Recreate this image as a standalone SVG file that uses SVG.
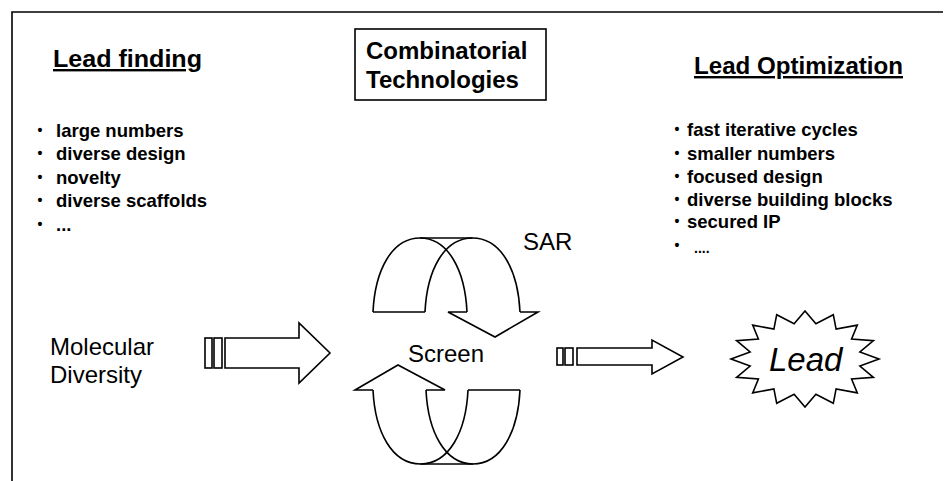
<svg xmlns="http://www.w3.org/2000/svg" width="949" height="481" viewBox="0 0 949 481">
<defs>
<style>
.ln{fill:none;stroke:#000;stroke-width:1.6;stroke-linejoin:miter}
.sh{fill:#fff;stroke:#000;stroke-width:1.6}
.h{font-family:"Liberation Sans",Arial,sans-serif;font-weight:bold;font-size:24px;fill:#000}
.b{font-family:"Liberation Sans",Arial,sans-serif;font-weight:bold;font-size:18.5px;fill:#000}
.bu{font-family:"Liberation Sans",Arial,sans-serif;font-weight:bold;font-size:14px;fill:#000}
.r{font-family:"Liberation Sans",Arial,sans-serif;font-size:24px;fill:#000}
.big{font-family:"Liberation Sans",Arial,sans-serif;font-size:33px;font-style:italic;fill:#000}
.dots{font-family:"Liberation Sans",Arial,sans-serif;font-size:14px;font-weight:bold;fill:#000}
</style>
<g id="cycleArrow">
<path class="ln" d="M373,312 C375,270 392,238 420,238 C448,238 465,270 467,312"/>
<path class="ln" d="M425,312 C427,270 444,238 472.5,238 C501,238 518,270 520,312"/>
<path class="ln" d="M420,238 H472.5 M373,312 H425 M467,312 H448 L495,337 L538,312 H520"/>
</g>
</defs>
<rect width="949" height="481" fill="#fff"/>
<path class="ln" d="M12,481 V12 H943" stroke-width="2"/>

<g id="lead-finding">
<text class="h" x="53" y="67" text-decoration="underline" textLength="149" lengthAdjust="spacingAndGlyphs">Lead finding</text>
<g class="bu">
<text x="37.5" y="135">•</text>
<text x="37.5" y="158">•</text>
<text x="37.5" y="182">•</text>
<text x="37.5" y="205">•</text>
<text x="37.5" y="229">•</text>
</g>
<g class="b">
<text x="56" y="137">large numbers</text>
<text x="56" y="160">diverse design</text>
<text x="56" y="184">novelty</text>
<text x="56" y="207">diverse scaffolds</text>
<text x="56" y="231">...</text>
</g>
</g>

<g id="combinatorial">
<rect class="sh" x="355" y="29" width="191" height="71"/>
<text class="h" x="366" y="59">Combinatorial</text>
<text class="h" x="366" y="88">Technologies</text>
</g>

<g id="lead-optimization">
<text class="h" x="694" y="74" text-decoration="underline" textLength="209" lengthAdjust="spacingAndGlyphs">Lead Optimization</text>
<g class="bu">
<text x="674.5" y="134">•</text>
<text x="674.5" y="158">•</text>
<text x="674.5" y="181">•</text>
<text x="674.5" y="204">•</text>
<text x="674.5" y="226">•</text>
<text x="674.5" y="250">•</text>
</g>
<g class="b">
<text x="687" y="136">fast iterative cycles</text>
<text x="687" y="160">smaller numbers</text>
<text x="687" y="183">focused design</text>
<text x="687" y="206">diverse building blocks</text>
<text x="687" y="228">secured IP</text>
</g>
<text class="dots" x="694" y="253">....</text>
</g>

<g id="molecular-diversity">
<text class="r" x="50" y="355">Molecular</text>
<text class="r" x="50" y="383">Diversity</text>
</g>

<g id="sar"><text class="r" x="523" y="250">SAR</text></g>
<g id="screen"><text class="r" x="408" y="362">Screen</text></g>

<g id="lead">
<polygon class="sh" stroke-width="2" points="879,359 859.9,352 873.4,340.6 851.6,339 857.3,325.1 836.1,329.1 833.3,314.7 815.9,323.7 805,311 794.1,323.7 776.7,314.7 773.9,329.1 752.7,325.1 758.4,339 736.6,340.6 750.1,352 731,359 750.1,366 736.6,377.4 758.4,379 752.7,392.9 773.9,388.9 776.7,403.3 794.1,394.3 805,407 815.9,394.3 833.3,403.3 836.1,388.9 857.3,392.9 851.6,379 873.4,377.4 859.9,366"/>
<text class="big" x="769" y="371">Lead</text>
</g>

<g id="connectors">
<g id="arrow-left">
<rect class="sh" x="205" y="338" width="7" height="30"/>
<rect class="sh" x="214" y="338" width="8" height="30"/>
<path class="sh" d="M225,338 H299 V323 L330,353 L299,383 V368 H225 Z"/>
</g>
<g id="arrow-right">
<rect class="sh" x="557" y="348" width="6" height="17"/>
<rect class="sh" x="565" y="348" width="8" height="17"/>
<path class="sh" d="M577,348 H652 V340 L683,357 L652,374 V365 H577 Z"/>
</g>
<g id="cycle-sar"><use href="#cycleArrow"/></g>
<g id="cycle-screen"><use href="#cycleArrow" transform="rotate(180 446.5 351)"/></g>
</g>
</svg>
